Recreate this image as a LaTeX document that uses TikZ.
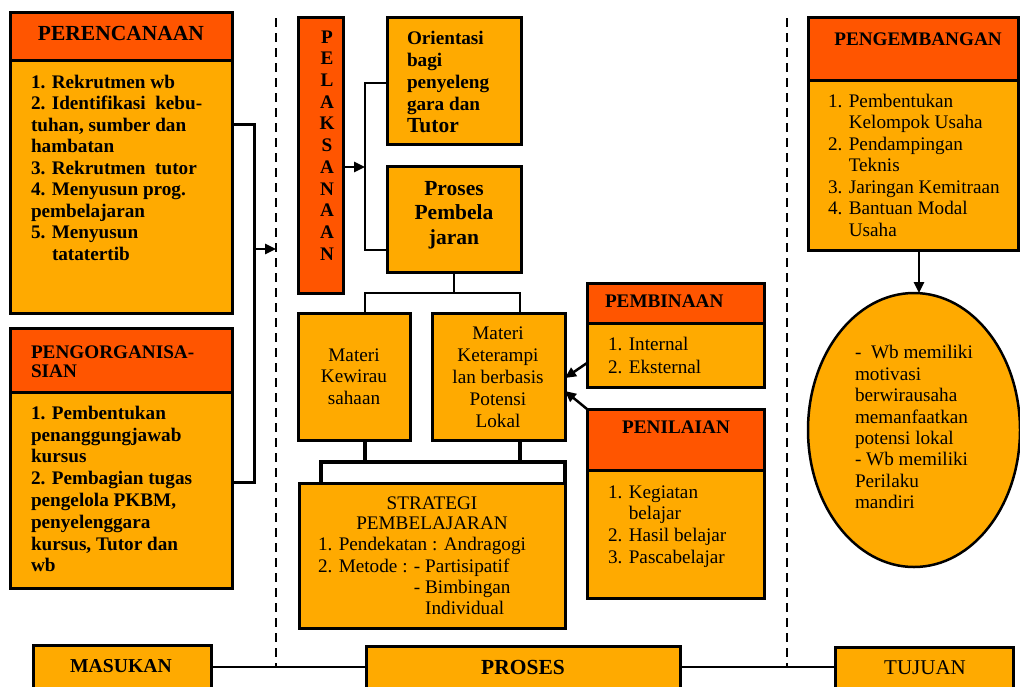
\documentclass[tikz,border=0pt]{standalone}
\usepackage{fontspec}
\setmainfont{Liberation Serif}
\usetikzlibrary{arrows.meta,shapes.geometric}
\definecolor{bodyor}{RGB}{255,170,0}
\definecolor{hdrred}{RGB}{255,85,0}
\newcommand\ftreg{\fontsize{19.2}{21.5}\selectfont}
\newcommand\ftbold{\bfseries\fontsize{19.2}{21.5}\selectfont}
\begin{document}
\begin{tikzpicture}[x=1pt,y=-1pt,
  box/.style={rectangle,draw=black,line width=3pt,fill=bodyor,inner sep=0pt,outer sep=0pt,anchor=north west},
  hdr/.style={box,fill=hdrred},
  conn/.style={line width=2.5pt,line join=miter},
  thk/.style={line width=4pt,line join=miter},
  arr/.style={line width=2.5pt,-{Triangle[length=11pt,width=10pt]}},
  dashln/.style={line width=2.5pt,dash pattern=on 9pt off 6pt},
  tR/.style={inner sep=0pt,outer sep=0pt,font=\ftreg,align=left,anchor=north west},
  tB/.style={tR,font=\ftbold},
  lblR/.style={inner sep=0pt,outer sep=0pt,font=\ftreg,anchor=base},
  lblB/.style={lblR,font=\ftbold},
]
\useasboundingbox (0,0) rectangle (1020,686);
\fill[white] (0,0) rectangle (1020,686);
\clip (0,0) rectangle (1020,686);

% dashed separators
\coordinate (dLt) at (276,18);
\coordinate (dLb) at (276,667);
\coordinate (dRt) at (787,18);
\coordinate (dRb) at (787,667);
\draw[dashln] (dLt) -- (dLb);
\draw[dashln] (dRt) -- (dRb);

% PERENCANAAN
\node[box,minimum width=222pt,minimum height=301pt] (per) at (10,12) {};
\node[hdr,minimum width=222pt,minimum height=48pt] (perh) at (10,12) {};
\node[lblB,font=\bfseries\fontsize{21.5}{24}\selectfont] (perht) at (121,40) {PERENCANAAN};
\node[tB] (perbt) at (31,73) {\strut 1. Rekrutmen wb\\
2. Identifikasi\ \ kebu-\\
tuhan, sumber dan\\
hambatan\\
3. Rekrutmen\ \ tutor\\
4. Menyusun prog.\\
pembelajaran\\
5. Menyusun\\
\hspace*{21pt}tatatertib};

% PENGORGANISASIAN
\node[box,minimum width=222pt,minimum height=260pt] (org) at (10,328) {};
\node[hdr,minimum width=222pt,minimum height=64pt] (orgh) at (10,328) {};
\node[tB,font=\bfseries\fontsize{19.2}{19}\selectfont] (orght) at (31,345) {\strut PENGORGANISA-\\SIAN};
\node[tB,font=\bfseries\fontsize{19.2}{21.8}\selectfont] (orgbt) at (31,404) {\strut 1. Pembentukan\\
penanggungjawab\\
kursus\\
2. Pembagian tugas\\
pengelola PKBM,\\
penyelenggara\\
kursus, Tutor dan\\
wb};

% bracket to the process column
\coordinate (jL) at (254,249);
\draw[conn,line width=3pt] (per.east |- 0,124) -- (254,124) -- (254,482) -- (org.east |- 0,482);
\draw[arr] (jL) -- (jL -| dLt);

% PELAKSANAAN
\node[hdr,minimum width=45pt,minimum height=276pt] (pel) at (298,17) {};
\node[tB,align=center,anchor=north,font=\bfseries\fontsize{19.2}{21.7}\selectfont] (pelt) at (327,28) {\strut P\\E\\L\\A\\K\\S\\A\\N\\A\\A\\N};

% Orientasi and Proses
\node[box,minimum width=134pt,minimum height=127pt] (ori) at (387,17) {};
\node[tB,font=\bfseries\fontsize{19.2}{22}\selectfont] (orit) at (407,29) {\strut Orientasi\\bagi\\penyeleng\\gara dan\\{\fontsize{21.5}{22}\selectfont Tutor}};
\node[box,minimum width=134pt,minimum height=106pt] (pro) at (387,166) {};
\node[tB,align=center,anchor=north,font=\bfseries\fontsize{21.5}{24.5}\selectfont] (prot) at (454,178) {\strut Proses\\Pembela\\jaran};

\coordinate (pJ) at (365,167);
\draw[arr] (pel.east |- pJ) -- (pJ);
\draw[conn] (ori.west |- 0,83) -- (365,83) -- (365,250) -- (pro.west |- 0,250);

% Materi boxes
\node[box,minimum width=112pt,minimum height=127pt] (kew) at (298,313) {};
\node[tR,align=center,anchor=north] (kewt) at (354,346) {\strut Materi\\Kewirau\\sahaan};
\node[box,minimum width=133pt,minimum height=127pt] (ket) at (432,313) {};
\node[tR,align=center,anchor=north,font=\fontsize{19.2}{22}\selectfont] (kett) at (498,324) {\strut Materi\\Keterampi\\lan berbasis\\Potensi\\Lokal};

\draw[conn] (pro.south) -- (pro.south |- 0,293);
\draw[conn] (kew.north -| 365,0) -- (365,293) -- (520,293) -- (ket.north -| 520,0);

% STRATEGI
\node[box,minimum width=266pt,minimum height=145pt] (str) at (299,483) {};
\node[tR,align=center,anchor=north,font=\fontsize{19.2}{20}\selectfont] (strt) at (432,495) {\strut STRATEGI\\PEMBELAJARAN};
\node[tR,font=\fontsize{19.2}{21.2}\selectfont] (strl) at (318,536) {\strut 1. Pendekatan : Andragogi\\
2. Metode : - Partisipatif\\
\phantom{2. Metode : }- Bimbingan\\
\phantom{2. Metode : - }Individual};

\draw[thk] (kew.south -| 365,0) -- (365,462);
\draw[thk] (ket.south -| 520,0) -- (520,462);
\draw[thk] (str.north -| 321,0) -- (321,462) -- (565,462) -- (str.north -| 565,0);

% PEMBINAAN
\node[box,minimum width=177pt,minimum height=104pt] (pbn) at (587,283) {};
\node[hdr,minimum width=177pt,minimum height=40pt] (pbnh) at (587,283) {};
\node[lblB,anchor=base west] (pbnht) at (605,307.3) {PEMBINAAN};
\node[tR,font=\fontsize{19.2}{23}\selectfont] (pbnt) at (608,334) {\strut 1. Internal\\2. Eksternal};

% PENILAIAN
\node[box,minimum width=177pt,minimum height=189pt] (pnl) at (587,409) {};
\node[hdr,minimum width=177pt,minimum height=61pt] (pnlh) at (587,409) {};
\node[lblB] (pnlht) at (676,433.3) {PENILAIAN};
\node[tR,font=\fontsize{19.2}{21.7}\selectfont] (pnlt) at (608,483) {\strut 1. Kegiatan\\
\phantom{1. }belajar\\
2. Hasil belajar\\
3. Pascabelajar};

\draw[arr] (pbn.west |- 0,363) -- (ket.east |- 0,378);
\draw[arr] (pnl.north west) -- (ket.east |- 0,391);

% PENGEMBANGAN
\node[box,minimum width=210pt,minimum height=233pt] (peng) at (808,17) {};
\node[hdr,minimum width=210pt,minimum height=63pt] (pengh) at (808,17) {};
\node[lblB] (penght) at (918,45.3) {PENGEMBANGAN};
\node[tR] (pengt) at (828,92) {\strut 1. Pembentukan\\
\phantom{1. }Kelompok Usaha\\
2. Pendampingan\\
\phantom{2. }Teknis\\
3. Jaringan Kemitraan\\
4. Bantuan Modal\\
\phantom{4. }Usaha};

% Goal ellipse
\node[ellipse,draw=black,line width=2.5pt,fill=bodyor,minimum width=212pt,minimum height=274pt,inner sep=0pt,outer sep=0pt] (ell) at (914,430) {};
\node[tR,font=\fontsize{19.2}{21.4}\selectfont] (ellt) at (855,344) {\strut -\ \ Wb memiliki\\
motivasi\\
berwirausaha\\
memanfaatkan\\
potensi lokal\\
- Wb memiliki\\
Perilaku\\
mandiri};

\draw[arr] (peng.south -| 919,0) -- (ell.north -| 919,0);

% bottom row
\node[box,minimum width=178pt,minimum height=60pt] (mas) at (33,645) {};
\node[lblB,font=\bfseries\fontsize{19.7}{22}\selectfont] (mast) at (121,672) {MASUKAN};
\node[box,minimum width=314pt,minimum height=60pt] (pros) at (366,646) {};
\node[lblB,font=\bfseries\fontsize{21.5}{24}\selectfont] (prost) at (523,674) {PROSES};
\node[box,minimum width=178pt,minimum height=60pt] (tuj) at (835,647) {};
\node[lblR,font=\fontsize{21}{24}\selectfont] (tujt) at (925,674) {TUJUAN};

\draw[conn] (mas.east |- 0,667) -- (pros.west |- 0,667);
\draw[conn] (pros.east |- 0,667) -- (tuj.west |- 0,667);
\end{tikzpicture}
\end{document}
